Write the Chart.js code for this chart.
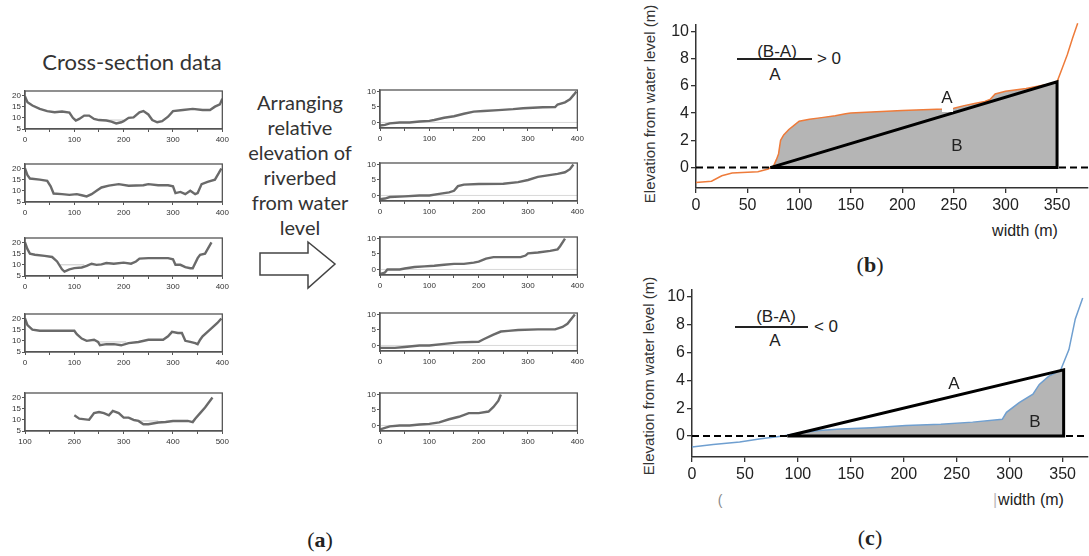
<!DOCTYPE html>
<html>
<head>
<meta charset="utf-8">
<script src="https://cdn.jsdelivr.net/npm/chart.js@4.4.1/dist/chart.umd.min.js"></script>
<style>
  body { margin: 0; width: 1089px; height: 556px; background: #fff; position: relative; overflow: hidden; }
  canvas { position: absolute; }
  .txt { position: absolute; white-space: nowrap; transform: translate(-50%, -50%); color: #222; line-height: 1; }
  .cal { font-family: Lato, "Open Sans", sans-serif; color: #333; }
  .ar { font-family: "Liberation Sans", Arial, sans-serif; font-size: 17px; }
  .ser { font-family: "Liberation Serif", "Times New Roman", serif; font-size: 22px; }
  .bar { position: absolute; height: 1.5px; background: #222; }
  .rot { transform: translate(-50%, -50%) rotate(-90deg); color: #333; }
</style>
</head>
<body>
<div class="txt cal" style="left:132px;top:62px;font-size:22px">Cross-section data</div>
<div class="txt cal" style="left:300px;top:102px;font-size:20px">Arranging</div>
<div class="txt cal" style="left:300px;top:127px;font-size:20px">relative</div>
<div class="txt cal" style="left:300px;top:152px;font-size:20px">elevation of</div>
<div class="txt cal" style="left:300px;top:177px;font-size:20px">riverbed</div>
<div class="txt cal" style="left:300px;top:202px;font-size:20px">from water</div>
<div class="txt cal" style="left:300px;top:227px;font-size:20px">level</div>
<svg width="1089" height="556" style="position:absolute;left:0;top:0">
  <polygon points="260,253 308,253 308,242 335,264 308,288 308,275 260,275" fill="none" stroke="#444" stroke-width="1.5"/>
</svg>
<div class="txt ser" style="left:320px;top:540px">(<b>a</b>)</div>

<div class="txt ar rot" style="left:649px;top:104px;font-size:15px">Elevation from water level (m)</div>
<div class="txt ar" style="left:777px;top:51px">(B-A)</div>
<div class="bar" style="left:737px;top:58px;width:75px"></div>
<div class="txt ar" style="left:775px;top:74px">A</div>
<div class="txt ar" style="left:829px;top:58px">&gt; 0</div>
<div class="txt ar" style="left:1025px;top:231px;font-size:16px">width (m)</div>
<div class="txt ser" style="left:870px;top:265px">(<b>b</b>)</div>

<div class="txt ar rot" style="left:648px;top:376px;font-size:15px">Elevation from water level (m)</div>
<div class="txt ar" style="left:776px;top:316px">(B-A)</div>
<div class="bar" style="left:735px;top:326px;width:73px"></div>
<div class="txt ar" style="left:775px;top:340px">A</div>
<div class="txt ar" style="left:826px;top:326px">&lt; 0</div>
<div class="txt ar" style="left:720px;top:500px;font-size:14px;color:#888">(</div>
<div class="txt ar" style="left:995px;top:500px;font-size:16px;color:#bbb">|</div>
<div class="txt ar" style="left:1031px;top:500px;font-size:16px">width (m)</div>
<div class="txt ser" style="left:870px;top:538px">(<b>c</b>)</div>

<script>
// cross-section data (left column)
const sec1X = [0, 5, 15, 30, 45, 60, 75, 90, 97, 103, 110, 120, 130, 140, 150, 165, 175, 185, 195, 200, 210, 220, 232, 240, 250, 258, 268, 278, 290, 300, 320, 340, 360, 375, 385, 395, 400]
const sec1Y = [19.5, 17, 15.5, 14, 13, 12.5, 12.8, 12.3, 10, 8.8, 9.5, 11, 11, 9.5, 9, 8.8, 8.3, 7.5, 8, 8.5, 10, 10.2, 12.5, 13, 11.5, 9, 8, 8.5, 10.5, 13, 13.5, 14, 13.5, 13.5, 15, 16, 18.5]
const sec2X = [0, 5, 10, 30, 45, 52, 58, 75, 90, 105, 115, 125, 135, 145, 155, 170, 190, 210, 240, 250, 270, 290, 300, 305, 315, 325, 335, 345, 350, 358, 370, 385, 393, 398]
const sec2Y = [20, 17, 15.5, 15, 14.5, 12, 8.8, 8.5, 8.2, 8.5, 8, 7.5, 8.5, 10, 11.5, 12.3, 13, 12.3, 12.5, 13, 12.5, 12.5, 12, 9, 9.5, 8.5, 10, 8.5, 9, 13, 14, 15, 18, 20]
const sec3X = [0, 5, 10, 20, 40, 55, 65, 75, 80, 90, 100, 115, 125, 135, 145, 155, 165, 180, 200, 215, 225, 232, 250, 290, 300, 305, 315, 325, 335, 340, 350, 355, 365, 378]
const sec3Y = [20, 17, 15, 14.5, 14, 13.5, 11.5, 8, 7, 8, 8.5, 8.8, 9.5, 10.5, 10, 10.2, 10.8, 10.5, 11, 10.5, 11.5, 12.8, 13, 13, 12.5, 10, 10, 9, 8.5, 8.5, 13, 14.5, 15, 20]
const sec4X = [0, 5, 15, 30, 60, 100, 105, 115, 125, 140, 148, 152, 165, 180, 195, 210, 230, 250, 280, 290, 298, 310, 318, 325, 335, 345, 350, 355, 360, 375, 390, 398]
const sec4Y = [20, 17, 15, 14.5, 14.5, 14.5, 13, 11, 10, 10.5, 9.5, 8, 8.5, 8.5, 8, 9, 9.5, 10.5, 10.5, 12, 14, 13.5, 13.5, 10, 9.5, 9, 8.5, 10.5, 12, 15, 18, 20]
const sec5X = [200, 210, 230, 240, 250, 260, 270, 278, 290, 300, 310, 320, 330, 340, 350, 370, 385, 400, 430, 440, 445, 455, 465, 480]
const sec5Y = [12, 10.5, 10, 13, 13.5, 13, 12, 14, 13, 11, 11, 10, 9.5, 8, 8, 8.8, 9, 9.5, 9.5, 9, 10.5, 13, 15.5, 20]
const waterLevel = [9, null, 10, 9.5, 9.5]
const waterFrom = [150, null, 70, 150, 320]
const waterTo = [205, null, 120, 205, 370]
const secTicks = [5, 10, 15, 20]

// relative elevation, sorted (middle column)
const rel1X = [0, 10, 20, 40, 60, 80, 100, 110, 130, 150, 170, 190, 210, 240, 270, 290, 330, 355, 360, 375, 385, 393, 398]
const rel1Y = [-1, -0.8, -0.3, 0, 0, 0.3, 0.5, 0.8, 1.5, 2, 2.8, 3.5, 3.7, 4, 4.3, 4.6, 4.9, 5, 5.8, 6.5, 7.5, 9, 10]
const rel2X = [0, 10, 20, 50, 80, 100, 120, 140, 150, 158, 170, 200, 250, 280, 300, 320, 340, 360, 375, 385, 392]
const rel2Y = [-1.2, -1, -0.5, -0.3, 0, 0, 0.5, 1, 1.5, 3, 3.5, 3.7, 3.8, 4.3, 5, 6, 6.5, 7, 7.5, 8.5, 10]
const rel3X = [0, 10, 15, 20, 40, 50, 70, 90, 110, 130, 150, 170, 190, 200, 215, 230, 285, 295, 300, 320, 345, 360, 365, 375]
const rel3Y = [-1.5, -1, 0, 0, 0, 0.3, 0.8, 1, 1.2, 1.5, 1.8, 1.8, 2.2, 2.5, 3.5, 4, 4, 4.5, 5.2, 5.5, 6, 6.5, 7.5, 10]
const rel4X = [0, 30, 50, 80, 100, 130, 160, 200, 210, 230, 245, 260, 280, 320, 355, 370, 380, 395]
const rel4Y = [-0.8, -0.8, -0.5, 0, 0, 0.5, 1, 1.2, 2, 3.5, 4.5, 4.7, 5, 5.2, 5.2, 6, 7, 10]
const rel5X = [0, 10, 20, 40, 60, 80, 100, 120, 140, 160, 180, 200, 220, 230, 240, 245]
const rel5Y = [-1.3, -0.8, -0.3, 0, 0, 0.3, 0.5, 1, 2, 2.8, 4, 4, 4.5, 6, 8, 10]
const relTicks = [0, 5, 10]

// panels (b) and (c)
const bX = [0, 15, 25, 35, 50, 60, 70, 75, 78, 80, 82, 85, 90, 95, 100, 110, 120, 135, 145, 150, 200, 240, 250, 260, 270, 280, 285, 290, 300, 320, 340, 350, 355, 360, 365, 370]
const bY = [-1.1, -1.0, -0.6, -0.4, -0.35, -0.3, -0.1, 0.1, 0.6, 1.0, 2.0, 2.4, 2.8, 3.1, 3.4, 3.55, 3.65, 3.8, 3.95, 4.0, 4.2, 4.3, 4.35, 4.55, 4.7, 4.85, 5.0, 5.4, 5.6, 5.8, 6.1, 6.3, 7.3, 8.3, 9.5, 10.6]
const bTriX = [72, 350, 350, 72]
const bTriY = [0, 6.3, 0, 0]
const cX = [0, 20, 45, 65, 86, 100, 120, 140, 170, 202, 235, 265, 293, 297, 309, 322, 328, 337, 348, 356, 362, 369]
const cY = [-0.78, -0.6, -0.42, -0.2, 0, 0.2, 0.4, 0.5, 0.6, 0.75, 0.85, 1.0, 1.2, 1.7, 2.4, 3.0, 3.7, 4.3, 4.7, 6.2, 8.4, 9.9]
const cTriX = [90, 351, 351, 90]
const cTriY = [0, 4.75, 0, 0]
const elevTicks = [0, 2, 4, 6, 8, 10]
const widthTicks = [0, 50, 100, 150, 200, 250, 300, 350]

const pts = (xs, ys) => xs.map((x, i) => ({ x: x, y: ys[i] }))
const tickList = vals => vals.map(v => ({ value: v }))

const frame = {
  id: 'frame',
  afterDatasetsDraw(chart) {
    const a = chart.chartArea, ctx = chart.ctx
    ctx.save()
    ctx.strokeStyle = '#555'
    ctx.lineWidth = 1.3
    ctx.strokeRect(a.left, a.top, a.right - a.left, a.bottom - a.top)
    ctx.restore()
  }
}

function addCanvas(left, top, w, h) {
  const c = document.createElement('canvas')
  c.width = w
  c.height = h
  c.style.left = left + 'px'
  c.style.top = top + 'px'
  c.style.width = w + 'px'
  c.style.height = h + 'px'
  document.body.appendChild(c)
  return c
}

function smallChart(plotL, plotT, xs, ys, xr, yr, yTicks, extra) {
  const yW = 25, padT = 6, padR = 9, xH = 14, plotW = 198, plotH = 38
  const cv = addCanvas(plotL - yW, plotT - padT, plotW + yW + padR, plotH + padT + xH)
  const tickFont = { size: 8, family: 'Liberation Sans' }
  new Chart(cv, {
    type: 'line',
    data: {
      datasets: [{
        data: pts(xs, ys),
        borderColor: '#6a6a6a',
        borderWidth: 2.4,
        pointRadius: 0
      }].concat(extra)
    },
    options: {
      responsive: false,
      animation: false,
      events: [],
      layout: { padding: { top: padT, right: padR, left: 0, bottom: 0 } },
      plugins: { legend: { display: false }, tooltip: { enabled: false } },
      scales: {
        x: {
          type: 'linear', min: xr[0], max: xr[1],
          afterFit: s => { s.height = xH },
          afterBuildTicks: s => {
            const t = []
            for (let v = xr[0]; v <= xr[1]; v += 50) t.push(v)
            s.ticks = tickList(t)
          },
          ticks: { font: tickFont, color: '#333', padding: 3, maxRotation: 0, autoSkip: false,
            callback: v => v % 100 === 0 ? v : '' },
          grid: { drawOnChartArea: false, tickLength: 3, color: '#555' },
          border: { color: '#555', width: 1.3 }
        },
        y: {
          min: yr[0], max: yr[1],
          afterFit: s => { s.width = yW },
          afterBuildTicks: s => { s.ticks = tickList(yTicks) },
          ticks: { font: tickFont, color: '#333', padding: 1 },
          grid: { drawOnChartArea: false, tickLength: 3, color: '#555' },
          border: { color: '#555', width: 1.3 }
        }
      }
    },
    plugins: [frame]
  })
}

const secX = [sec1X, sec2X, sec3X, sec4X, sec5X]
const secY = [sec1Y, sec2Y, sec3Y, sec4Y, sec5Y]
const secTops = [91, 164, 238, 314, 393]
secX.forEach((xs, i) => {
  const xr = i === 4 ? [100, 500] : [0, 400]
  const extra = waterLevel[i] === null ? [] : [{
    data: pts([waterFrom[i], waterTo[i]], [waterLevel[i], waterLevel[i]]),
    borderColor: '#c8c8c8', borderWidth: 1, pointRadius: 0
  }]
  smallChart(25, secTops[i], xs, secY[i], xr, [5, 22], secTicks, extra)
})

const relX = [rel1X, rel2X, rel3X, rel4X, rel5X]
const relY = [rel1Y, rel2Y, rel3Y, rel4Y, rel5Y]
const relTops = [90, 163, 237, 313, 393]
relX.forEach((xs, i) => {
  const extra = [{
    data: pts([0, 400], [0, 0]),
    borderColor: '#d8d8d8', borderWidth: 1, pointRadius: 0
  }]
  smallChart(380, relTops[i], xs, relY[i], [0, 400], [-1.8, 10.5], relTicks, extra)
})

function bigChart(plotL, plotT, plotR, plotB, xs, ys, triX, triY, xMax, lineColor) {
  const yW = plotL - 640, padT = 8, padR = 1, xH = 26
  const cv = addCanvas(640, plotT - padT, plotR - plotL + yW + padR, plotB - plotT + padT + xH)
  const x0 = triX[0], x1 = triX[1]
  // grey area: under the profile, between the two ends of the triangle base
  const inside = xs.map((x, i) => i).filter(i => xs[i] > x0 && xs[i] < x1)
  const fillX = [x0].concat(inside.map(i => xs[i]), [x1])
  const fillY = [triY[0]].concat(inside.map(i => ys[i]), [triY[1]])
  const tickFont = { size: 16, family: 'Liberation Sans' }
  new Chart(cv, {
    type: 'line',
    data: {
      datasets: [
        { data: pts(triX, triY), borderColor: '#000', borderWidth: 3, pointRadius: 0, borderJoinStyle: 'miter' },
        { data: pts([0, xMax], [0, 0]), borderColor: '#000', borderWidth: 2, borderDash: [7, 4], pointRadius: 0 },
        { data: pts(xs, ys), borderColor: lineColor, borderWidth: 1.5, pointRadius: 0, clip: 6 },
        { data: pts(fillX, fillY), borderWidth: 0, backgroundColor: '#b5b5b5', fill: 'origin', pointRadius: 0 }
      ]
    },
    options: {
      responsive: false,
      animation: false,
      events: [],
      layout: { padding: { top: padT, right: padR, left: 0, bottom: 0 } },
      plugins: { legend: { display: false }, tooltip: { enabled: false } },
      scales: {
        x: {
          type: 'linear', min: 0, max: xMax,
          afterFit: s => { s.height = xH },
          afterBuildTicks: s => { s.ticks = tickList(widthTicks) },
          ticks: { font: tickFont, color: '#222', padding: 3, maxRotation: 0, autoSkip: false },
          grid: { drawOnChartArea: false, tickLength: 5, color: '#333', lineWidth: 1.3 },
          border: { color: '#333', width: 1.5 }
        },
        y: {
          min: -1.5, max: 10.5,
          afterFit: s => { s.width = yW },
          afterBuildTicks: s => { s.ticks = tickList(elevTicks) },
          ticks: { font: tickFont, color: '#222', padding: 2 },
          grid: { drawOnChartArea: false, tickLength: 5, color: '#333', lineWidth: 1.3 },
          border: { color: '#333', width: 1.5 }
        }
      }
    }
  })
}

bigChart(696, 21, 1088, 188, bX, bY, bTriX, bTriY, 380, '#ee7b3a')
bigChart(692, 286, 1088, 457, cX, cY, cTriX, cTriY, 374, '#6f9fd0')
</script>
<div style="position:absolute;left:942px;top:104px;width:11px;height:8px;background:#fff"></div>
<div class="txt ar" style="left:947px;top:97px">A</div>
<div class="txt ar" style="left:957px;top:145px">B</div>
<div class="txt ar" style="left:954px;top:383px">A</div>
<div class="txt ar" style="left:1035px;top:421px">B</div>
</body>
</html>
